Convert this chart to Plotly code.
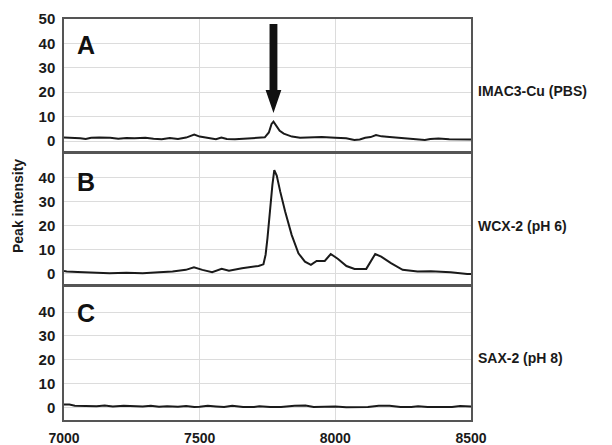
import plotly.graph_objects as go

# ---- data ----
x_ticks = [7000, 7500, 8000, 8500]
panel_letters = ["A", "B", "C"]
panel_labels = ["IMAC3-Cu (PBS)", "WCX-2 (pH 6)", "SAX-2 (pH 8)"]
y_title = "Peak intensity"
peak_mass = 7772

a_x = [7000, 7030, 7060, 7080, 7100, 7130, 7170, 7200, 7230, 7260, 7300, 7330, 7360, 7390,
       7420, 7450, 7470, 7480, 7500, 7530, 7560, 7580, 7600, 7630, 7660, 7700, 7740, 7755,
       7765, 7772, 7780, 7795, 7810, 7840, 7870, 7900, 7950, 8000, 8040, 8070, 8090, 8110,
       8130, 8150, 8170, 8200, 8250, 8300, 8330, 8350, 8380, 8420, 8460, 8500]
a_y = [1.4, 1.4, 1.1, 0.8, 1.3, 1.4, 1.3, 0.9, 1.2, 1.1, 1.3, 0.9, 0.7, 1.2,
       0.8, 1.4, 2.3, 2.6, 1.8, 1.4, 0.7, 1.4, 0.8, 0.7, 1.0, 1.2, 1.5, 3.5,
       7.0, 7.9, 6.5, 4.2, 3.0, 1.8, 1.3, 1.4, 1.6, 1.3, 1.1, 0.4, 0.6, 1.3,
       1.6, 2.4, 1.9, 1.6, 1.1, 0.7, 0.4, 0.8, 1.0, 0.7, 0.6, 0.6]

b_x = [7000, 7010, 7050, 7095, 7168, 7230, 7290, 7350, 7400, 7449, 7479, 7510, 7546, 7581,
       7608, 7656, 7690, 7717, 7735, 7743, 7750, 7756, 7762, 7768, 7775, 7784, 7797, 7815,
       7839, 7864, 7888, 7910, 7931, 7961, 7983, 8010, 8041, 8071, 8114, 8130, 8147, 8169,
       8205, 8248, 8303, 8352, 8425, 8486, 8500]
b_y = [1.2, 1.0, 0.8, 0.7, 0.3, 0.5, 0.3, 0.7, 1.0, 1.7, 2.8, 1.7, 0.7, 2.1,
       1.3, 2.4, 3.0, 3.3, 4.0, 8.0, 15.0, 23.0, 30.0, 37.0, 43.3, 41.0, 34.3, 26.0,
       16.3, 8.6, 5.1, 3.75, 5.4, 5.4, 8.3, 6.25, 3.3, 2.1, 2.1, 5.1, 8.3, 7.2,
       4.5, 1.7, 1.0, 1.1, 0.7, 0.0, 0.0]

c_x = [7000, 7020, 7040, 7080, 7120, 7150, 7180, 7220, 7250, 7290, 7320, 7350, 7380, 7420,
       7450, 7480, 7500, 7530, 7560, 7590, 7620, 7660, 7700, 7720, 7760, 7800, 7850, 7890,
       7920, 7960, 8000, 8040, 8080, 8120, 8160, 8200, 8240, 8280, 8305, 8340, 8400, 8430,
       8460, 8500]
c_y = [1.3, 1.3, 0.8, 0.7, 0.6, 0.9, 0.5, 0.8, 0.6, 0.5, 0.8, 0.3, 0.6, 0.4,
       0.7, 0.2, 0.3, 0.8, 0.5, 0.2, 0.8, 0.2, 0.2, 0.6, 0.2, 0.2, 0.8, 0.9,
       0.2, 0.2, 0.5, 0.1, 0.1, 0.2, 0.8, 0.8, 0.2, 0.2, 0.6, 0.2, 0.2, 0.2,
       0.7, 0.5]

series = [(a_x, a_y), (b_x, b_y), (c_x, c_y)]

# ---- layout geometry (page has an 8px body margin, so compensate) ----
OFF = 8
W, H = 612 - OFF, 445 - OFF
FONT = "Arial, Liberation Sans, sans-serif"


def px(v):
    return (v - OFF) / W


def py(v):
    return 1 - (v - OFF) / H


x_dom = [px(64), px(471)]
y_doms = [[py(151), py(19)],
          [py(284), py(153.5)],
          [py(420), py(286.5)]]
y_ranges = [[-4.1, 50], [-4.2, 50.2], [-5.2, 50.7]]
y_tickvals = [[0, 10, 20, 30, 40, 50], [0, 10, 20, 30, 40], [0, 10, 20, 30, 40]]
letter_y = [45, 182, 313]
label_y = [91, 226, 358]

fig = go.Figure()
layout = dict(
    width=W, height=H, margin=dict(l=0, r=0, t=0, b=0, autoexpand=False),
    paper_bgcolor="white", plot_bgcolor="white", showlegend=False,
    font=dict(family=FONT, color="#1a1a1a"),
)

for i, (xs, ys) in enumerate(series):
    n = "" if i == 0 else str(i + 1)
    fig.add_trace(go.Scatter(x=xs, y=ys, mode="lines", xaxis="x" + n, yaxis="y" + n,
                             line=dict(color="#1a1a1a", width=2), hoverinfo="skip"))
    layout["xaxis" + n] = dict(
        domain=x_dom, anchor="y" + n, range=[7000, 8500], tickvals=x_ticks,
        showticklabels=(i == 2), ticks="", ticklabelstandoff=4, automargin=False,
        tickfont=dict(family=FONT, size=14, color="#1a1a1a", weight="bold"),
        showline=True, mirror=True, linecolor="#555", linewidth=1.5,
        showgrid=True, gridcolor="#dcdcdc", gridwidth=1, zeroline=False,
        **({} if i == 0 else {"matches": "x"}),
    )
    layout["yaxis" + n] = dict(
        domain=y_doms[i], anchor="x" + n, range=y_ranges[i], tickvals=y_tickvals[i],
        ticks="", ticklabelstandoff=4, automargin=False,
        tickfont=dict(family=FONT, size=15, color="#1a1a1a", weight="bold"),
        showline=True, mirror=True, linecolor="#555", linewidth=1.5,
        showgrid=True, gridcolor="#dcdcdc", gridwidth=1, zeroline=False,
    )

annotations = []
for i in range(3):
    annotations.append(dict(
        text=panel_letters[i], x=px(86), y=py(letter_y[i]), xref="paper", yref="paper",
        showarrow=False, xanchor="center", yanchor="middle",
        font=dict(family=FONT, size=25, color="#111", weight="bold")))
    annotations.append(dict(
        text=panel_labels[i], x=px(476), y=py(label_y[i]), xref="paper", yref="paper",
        showarrow=False, xanchor="left", yanchor="middle",
        font=dict(family=FONT, size=14, color="#1a1a1a", weight="bold")))
annotations.append(dict(
    text=y_title, x=px(18), y=py(206), xref="paper", yref="paper", textangle=-90,
    showarrow=False, xanchor="center", yanchor="middle",
    font=dict(family=FONT, size=14, color="#1a1a1a", weight="bold")))
layout["annotations"] = annotations

# downward arrow pointing at the peak in panel A (data coordinates of panel A)
hw_s, hw_h = 14.5, 29
path = (f"M {peak_mass - hw_s} 48 L {peak_mass + hw_s} 48 L {peak_mass + hw_s} 20.9 "
        f"L {peak_mass + hw_h} 20.9 L {peak_mass} 11.5 L {peak_mass - hw_h} 20.9 "
        f"L {peak_mass - hw_s} 20.9 Z")
layout["shapes"] = [dict(type="path", path=path, xref="x", yref="y",
                         fillcolor="#111", line=dict(color="#111", width=0))]

fig.update_layout(**layout)
fig.write_html("out.html")
